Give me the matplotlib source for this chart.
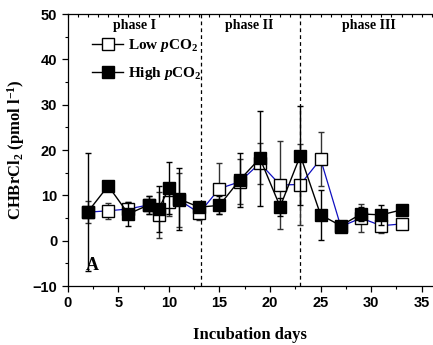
import matplotlib
matplotlib.use('Agg')
import matplotlib.pyplot as plt
from matplotlib.lines import Line2D
from matplotlib.ticker import MultipleLocator

# datos
dias = [2, 4, 6, 8, 9, 10, 11, 13, 15, 17, 19, 21, 23, 25, 27, 29, 31, 33]
bajo = [6.3, 6.6, 7.0, 7.9, 5.7, 8.5, 9.0, 6.1, 11.5, 13.0, 17.1, 12.3, 12.4, 18.0, 3.1, 5.0, 3.3, 3.7]
bajo_err = [2.5, 1.8, 1.5, 2.0, 5.0, 3.0, 6.0, 1.5, 5.7, 5.0, 4.5, 9.8, 9.0, 6.0, 0.5, 3.0, 1.5, 1.0]
alto = [6.4, 12.1, 5.9, 7.9, 7.0, 11.6, 9.2, 7.4, 7.8, 13.4, 18.2, 7.5, 18.8, 5.7, 3.3, 5.9, 5.7, 6.8]
alto_err = [13.0, 1.0, 2.7, 2.0, 5.0, 5.7, 6.8, 1.0, 2.0, 6.0, 10.5, 2.0, 11.0, 5.5, 1.0, 1.6, 2.2, 1.0]
limites_fase = [13.2, 23]
fases = ['phase I', 'phase II', 'phase III']
fases_x = [6.6, 17.9, 29.8]

plt.rcParams['mathtext.fontset'] = 'custom'
plt.rcParams['mathtext.rm'] = 'Liberation Serif:bold'
plt.rcParams['mathtext.it'] = 'Liberation Serif:bold:italic'
plt.rcParams['mathtext.bf'] = 'Liberation Serif:bold'

fig = plt.figure(figsize=(4.33, 3.45), dpi=100)
ax = fig.add_axes([0.1564, 0.171, 0.841, 0.788])

ax.errorbar(dias, bajo, yerr=bajo_err, color='#1010c0', lw=0.9, marker='s', ms=8,
            mfc='white', mec='black', mew=1.0, ecolor='#333333', elinewidth=1.0,
            capsize=2.5, capthick=1.0, zorder=3)
ax.errorbar(dias, alto, yerr=alto_err, color='black', lw=1.0, marker='s', ms=8,
            mfc='black', mec='black', ecolor='black', elinewidth=1.0,
            capsize=2.5, capthick=1.0, zorder=4)

for xl in limites_fase:
    ax.axvline(xl, color='black', lw=0.9, ls=(0, (3, 2.5)), zorder=1)
for nombre, xf in zip(fases, fases_x):
    ax.text(xf, 47.5, nombre, ha='center', va='center', family='Liberation Serif',
            fontweight='bold', fontsize=10)

ax.text(2.4, -5.5, 'A', ha='center', va='center', family='Liberation Serif',
        fontweight='bold', fontsize=13)

ax.set_xlim(0, 36)
ax.set_ylim(-10, 50)
ax.xaxis.set_major_locator(MultipleLocator(5))
ax.xaxis.set_minor_locator(MultipleLocator(2.5))
ax.yaxis.set_major_locator(MultipleLocator(10))
ax.yaxis.set_minor_locator(MultipleLocator(5))
ax.spines['right'].set_visible(False)
for s in ax.spines.values():
    s.set_linewidth(0.9)
ax.tick_params(which='major', direction='out', length=4, width=0.9)
ax.tick_params(which='minor', direction='out', length=2.5, width=0.8)
for lab in ax.get_xticklabels() + ax.get_yticklabels():
    lab.set_family('Liberation Sans')
    lab.set_fontweight('bold')
    lab.set_fontsize(10.5)

# ticks del eje superior cada dia, hacia adentro
top = ax.secondary_xaxis('top')
top.xaxis.set_major_locator(MultipleLocator(1))
top.tick_params(which='major', direction='in', length=2.5, width=0.8, labeltop=False)
top.spines['top'].set_visible(False)

ax.set_xlabel('Incubation days', family='Liberation Serif', fontweight='bold',
              fontsize=12, labelpad=12)
ax.set_ylabel('CHBrCl$_2$ (pmol l$^{-1}$)', family='Liberation Serif',
              fontweight='bold', fontsize=12, labelpad=4)

h_bajo = Line2D([], [], color='black', lw=1.0, marker='s', ms=8, mfc='white', mec='black')
h_alto = Line2D([], [], color='black', lw=1.0, marker='s', ms=8, mfc='black', mec='black')
ax.legend([h_bajo, h_alto], ['Low $p$CO$_2$', 'High $p$CO$_2$'], loc='upper left',
          bbox_to_anchor=(0.03, 0.965), frameon=False,
          prop={'family': 'Liberation Serif', 'weight': 'bold', 'size': 11},
          handlelength=2.0, handletextpad=0.3, labelspacing=0.7)

plt.savefig('out.png', dpi=100)
plt.close()
